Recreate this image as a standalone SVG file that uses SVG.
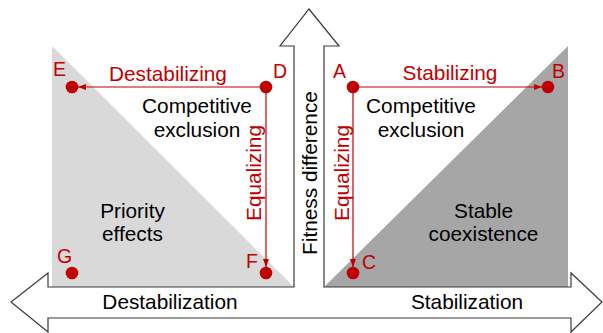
<svg xmlns="http://www.w3.org/2000/svg" width="603" height="333" viewBox="0 0 603 333">
<style>
  text { font-family: "Liberation Sans", Arial, sans-serif; }
  .lbl { font-size: 20.8px; fill: #000; text-anchor: middle; }
  .red { font-size: 20.8px; fill: #c00000; text-anchor: middle; }
  .ltr { font-size: 19.5px; fill: #c00000; }
  .dot { fill: #c00000; }
  .conn { stroke: #c00000; stroke-width: 1.2; fill: none; }
  .frame { fill: #fff; stroke: #3a3a3a; stroke-width: 1.2; stroke-linejoin: miter; }
</style>
<defs>
  <marker id="ah" viewBox="0 0 8 6" refX="8" refY="3" markerWidth="8" markerHeight="6" markerUnits="userSpaceOnUse" orient="auto">
    <path d="M0,0 L8,3 L0,6 z" fill="#c00000"/>
  </marker>
</defs>
<rect width="603" height="333" fill="#fff"/>
<g id="regions">
  <polygon points="52,46 52,287 294,287" fill="#d9d9d9"/>
  <polygon points="324,287 568,46 568,287" fill="#a6a6a6"/>
</g>
<g id="axes">
  <polygon class="frame" points="309,9 339,46 324,46 324,287 571,287 571,273 602,302 571,332 571,318 48,318 48,332 11,302 48,273 48,287 294,287 294,46 280,46"/>
  <text class="lbl" x="170" y="309">Destabilization</text>
  <text class="lbl" x="467" y="309">Stabilization</text>
  <text class="lbl" transform="translate(317,173) rotate(-90)" x="0" y="0">Fitness difference</text>
</g>
<g id="connectors">
  <line class="conn" x1="260" y1="87" x2="78" y2="87" marker-end="url(#ah)"/>
  <line class="conn" x1="266" y1="93" x2="266" y2="267" marker-end="url(#ah)"/>
  <line class="conn" x1="359" y1="87" x2="542" y2="87" marker-end="url(#ah)"/>
  <line class="conn" x1="353" y1="93" x2="353" y2="267" marker-end="url(#ah)"/>
  <text class="red" x="168" y="81">Destabilizing</text>
  <text class="red" x="450" y="80">Stabilizing</text>
  <text class="red" transform="translate(261,173) rotate(-90)" x="0" y="0">Equalizing</text>
  <text class="red" transform="translate(349,173) rotate(-90)" x="0" y="0">Equalizing</text>
</g>
<g id="label-left-exclusion">
  <text class="lbl" x="197" y="113">Competitive</text>
  <text class="lbl" x="197" y="137">exclusion</text>
</g>
<g id="label-right-exclusion">
  <text class="lbl" x="421" y="113">Competitive</text>
  <text class="lbl" x="421" y="137">exclusion</text>
</g>
<g id="label-priority">
  <text class="lbl" x="132.5" y="218">Priority</text>
  <text class="lbl" x="132.5" y="241">effects</text>
</g>
<g id="label-stable">
  <text class="lbl" x="483.5" y="218">Stable</text>
  <text class="lbl" x="483.5" y="241">coexistence</text>
</g>
<g id="node-A"><circle class="dot" cx="353" cy="87" r="6.3"/><text class="ltr" x="333" y="78">A</text></g>
<g id="node-B"><circle class="dot" cx="548" cy="87" r="6.3"/><text class="ltr" x="552" y="78">B</text></g>
<g id="node-C"><circle class="dot" cx="353" cy="273" r="6.3"/><text class="ltr" x="362" y="269">C</text></g>
<g id="node-D"><circle class="dot" cx="266" cy="87" r="6.3"/><text class="ltr" x="273" y="78">D</text></g>
<g id="node-E"><circle class="dot" cx="72" cy="87" r="6.3"/><text class="ltr" x="53" y="76">E</text></g>
<g id="node-F"><circle class="dot" cx="266" cy="273" r="6.3"/><text class="ltr" x="246" y="268">F</text></g>
<g id="node-G"><circle class="dot" cx="72" cy="273" r="6.3"/><text class="ltr" x="57" y="263">G</text></g>
</svg>
